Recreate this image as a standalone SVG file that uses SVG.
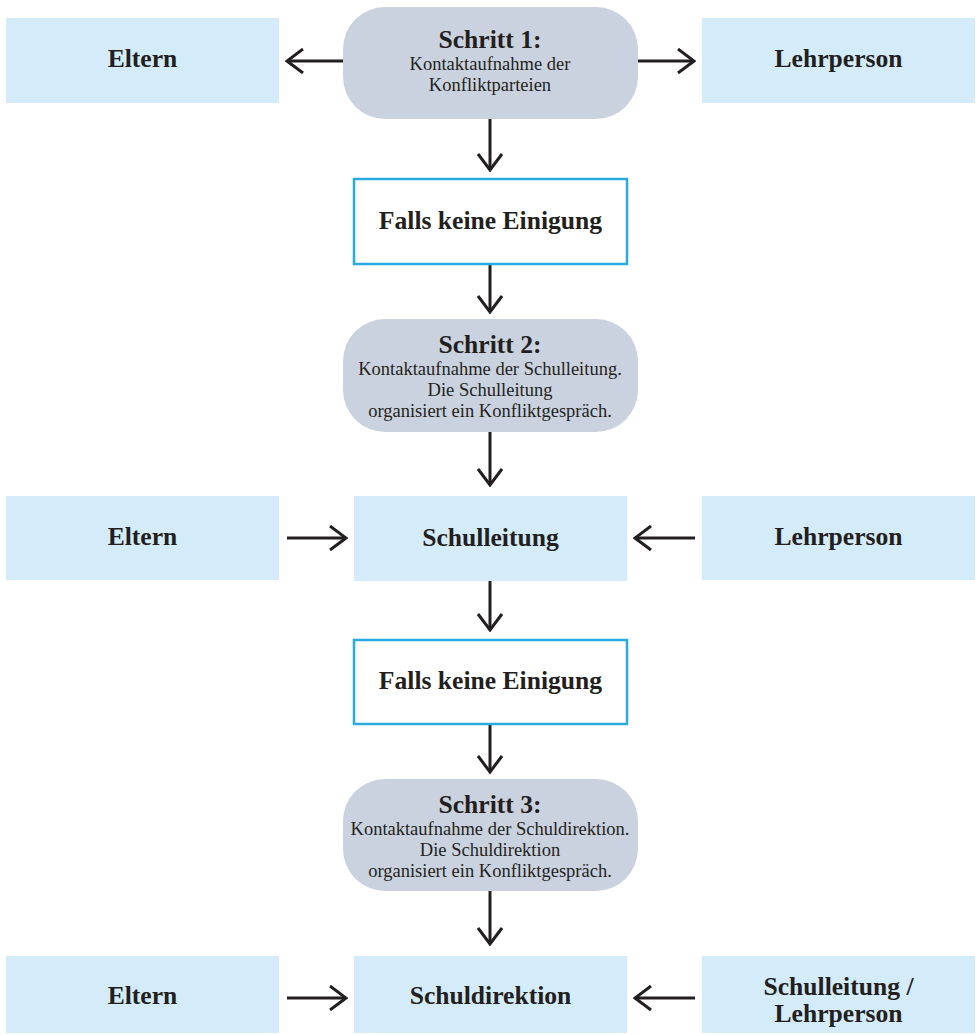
<svg xmlns="http://www.w3.org/2000/svg" width="979" height="1035" viewBox="0 0 979 1035">
<defs>
<marker id="ah" viewBox="-17 -13 19 26" refX="0" refY="0" markerWidth="19" markerHeight="26" markerUnits="userSpaceOnUse" orient="auto">
<path d="M-16,-12 L0,0 L-16,12" fill="none" stroke="#231F20" stroke-width="3" stroke-linejoin="miter"/>
</marker>
<style>
.blue{fill:#D4ECF9}
.pill{fill:#CBD2DF}
.cond{fill:#FFFFFF;stroke:#29ABE2;stroke-width:2.5}
.b{font-family:"Liberation Serif","Times New Roman",serif;font-weight:bold;font-size:25.6px;fill:#231F20;text-anchor:middle}
.s{font-family:"Liberation Serif","Times New Roman",serif;font-size:18.5px;fill:#231F20;text-anchor:middle}
.c{fill:none;stroke:#231F20;stroke-width:3;marker-end:url(#ah)}
</style>
</defs>
<rect width="979" height="1035" fill="#FFFFFF"/>
<g id="connectors">
<line class="c" x1="343" y1="61" x2="287" y2="61"/>
<line class="c" x1="637" y1="61" x2="694" y2="61"/>
<line class="c" x1="490" y1="113" x2="490" y2="170"/>
<line class="c" x1="490" y1="252" x2="490" y2="312"/>
<line class="c" x1="490" y1="425" x2="490" y2="485"/>
<line class="c" x1="287" y1="538" x2="346" y2="538"/>
<line class="c" x1="695" y1="538" x2="635" y2="538"/>
<line class="c" x1="490" y1="571" x2="490" y2="630"/>
<line class="c" x1="490" y1="713" x2="490" y2="772"/>
<line class="c" x1="490" y1="884" x2="490" y2="944"/>
<line class="c" x1="287" y1="998" x2="346" y2="998"/>
<line class="c" x1="695" y1="998" x2="635" y2="998"/>
</g>
<g id="eltern1"><rect class="blue" x="6" y="18" width="273" height="85"/><text class="b" x="142.5" y="67">Eltern</text></g>
<g id="schritt1"><rect class="pill" x="343" y="7" width="295" height="112" rx="42"/>
<text class="b" x="490" y="48">Schritt 1:</text>
<text class="s" x="490" y="70">Kontaktaufnahme der</text>
<text class="s" x="490" y="91">Konfliktparteien</text></g>
<g id="lehrperson1"><rect class="blue" x="702" y="18" width="273" height="85"/><text class="b" x="838.5" y="67">Lehrperson</text></g>
<g id="falls1"><rect class="cond" x="354" y="179" width="273" height="85"/><text class="b" x="490.5" y="229">Falls keine Einigung</text></g>
<g id="schritt2"><rect class="pill" x="343" y="319" width="295" height="113" rx="42"/>
<text class="b" x="490" y="353">Schritt 2:</text>
<text class="s" x="490" y="375">Kontaktaufnahme der Schulleitung.</text>
<text class="s" x="490" y="396">Die Schulleitung</text>
<text class="s" x="490" y="417">organisiert ein Konfliktgespräch.</text></g>
<g id="eltern2"><rect class="blue" x="6" y="496" width="273" height="84"/><text class="b" x="142.5" y="545">Eltern</text></g>
<g id="schulleitung"><rect class="blue" x="354" y="496" width="273" height="85"/><text class="b" x="490.5" y="546">Schulleitung</text></g>
<g id="lehrperson2"><rect class="blue" x="702" y="496" width="273" height="84"/><text class="b" x="838.5" y="545">Lehrperson</text></g>
<g id="falls2"><rect class="cond" x="354" y="640" width="273" height="84"/><text class="b" x="490.5" y="689">Falls keine Einigung</text></g>
<g id="schritt3"><rect class="pill" x="343" y="779" width="295" height="112" rx="42"/>
<text class="b" x="490" y="813">Schritt 3:</text>
<text class="s" x="490" y="835">Kontaktaufnahme der Schuldirektion.</text>
<text class="s" x="490" y="856">Die Schuldirektion</text>
<text class="s" x="490" y="877">organisiert ein Konfliktgespräch.</text></g>
<g id="eltern3"><rect class="blue" x="6" y="956" width="273" height="77"/><text class="b" x="142.5" y="1004">Eltern</text></g>
<g id="schuldirektion"><rect class="blue" x="354" y="956" width="273" height="77"/><text class="b" x="490.5" y="1004">Schuldirektion</text></g>
<g id="schulleitung-lehrperson"><rect class="blue" x="702" y="956" width="273" height="77"/>
<text class="b" x="838.5" y="995">Schulleitung /</text>
<text class="b" x="838.5" y="1022">Lehrperson</text></g>
</svg>
